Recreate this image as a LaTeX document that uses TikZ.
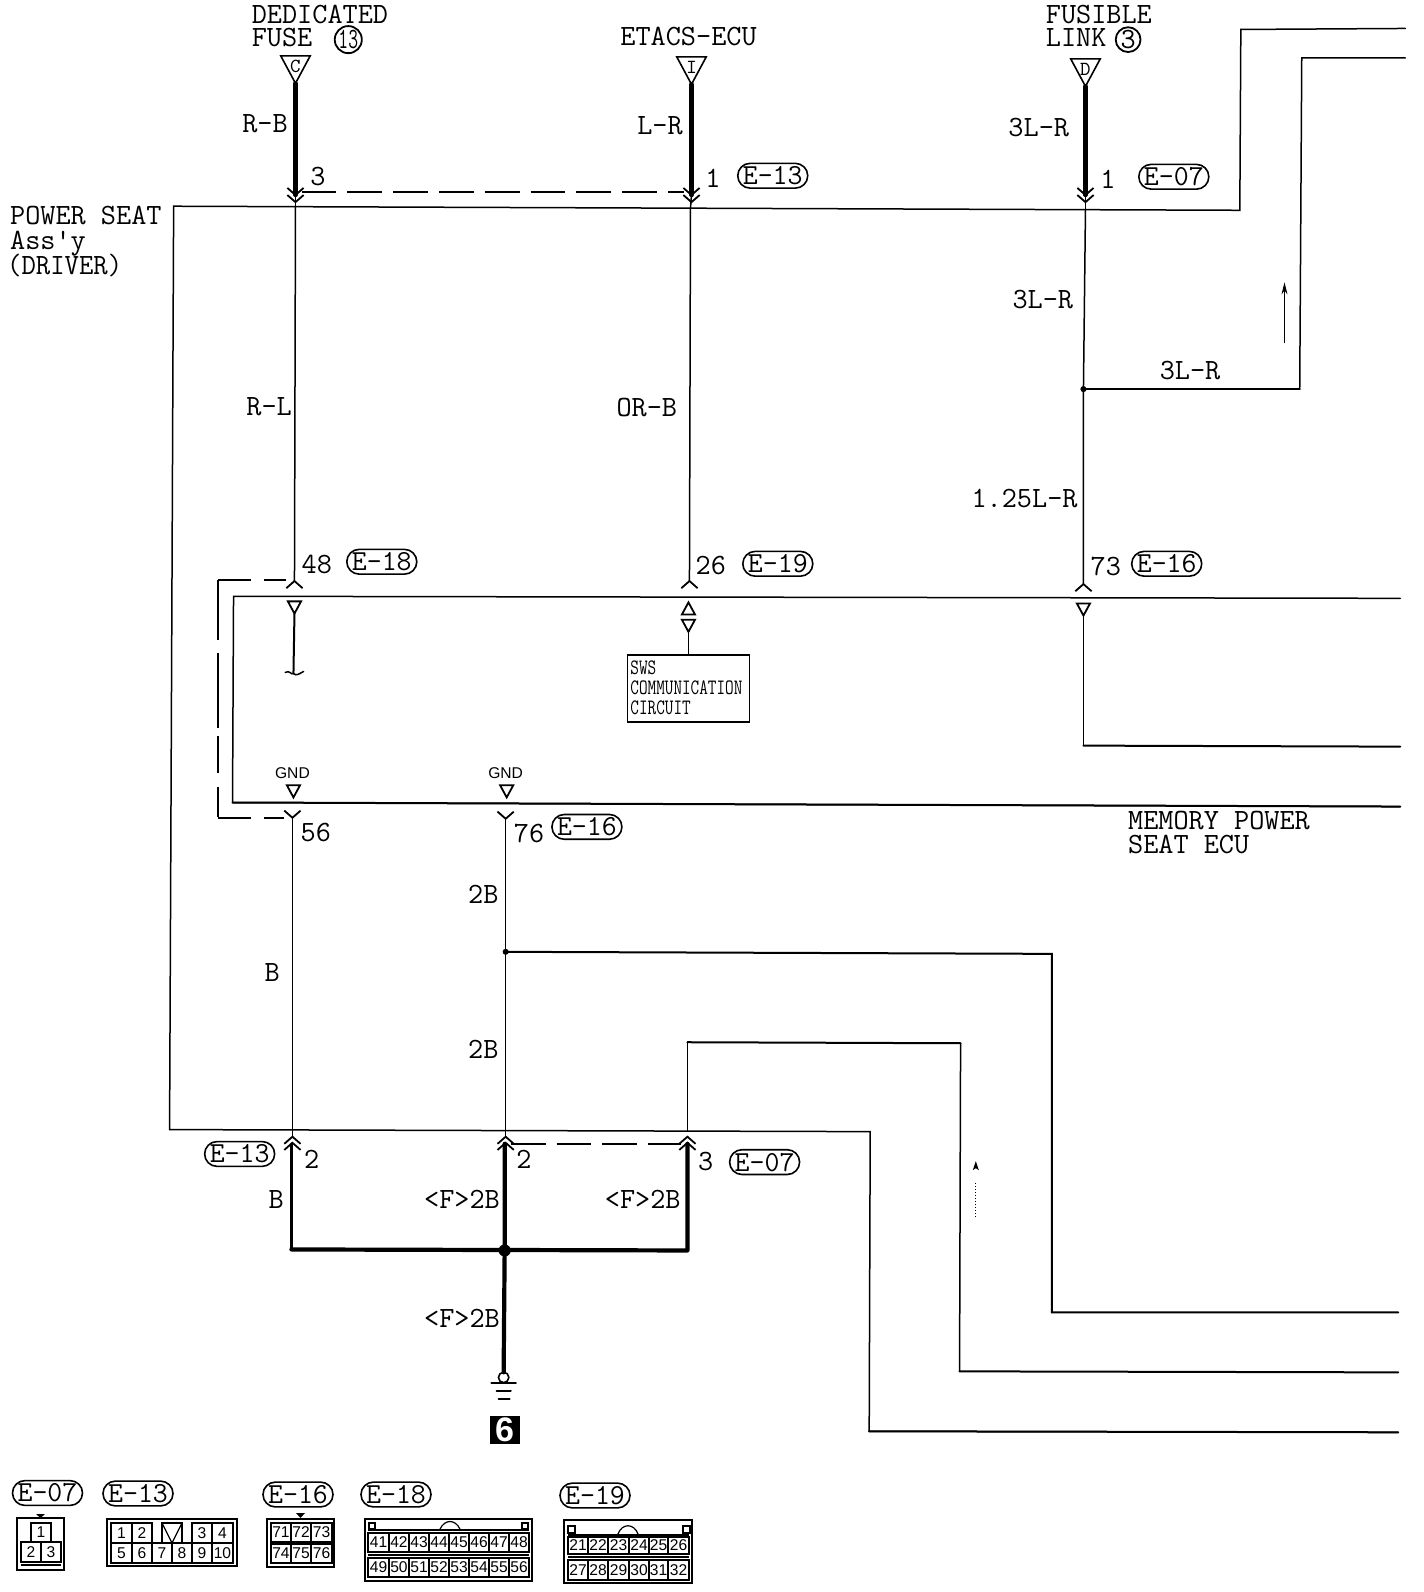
\documentclass[tikz,border=0pt]{standalone}
\usepackage{fontspec}
\newfontfamily\arialish{Liberation Sans}
\usetikzlibrary{arrows.meta,shapes.misc,calc}
\lineskiplimit=-20pt
\newcommand{\stackfont}[1]{\ttfamily\fontsize{14.7}{#1}\selectfont}
\tikzset{
  wire/.style={line width=0.75pt,line cap=round,line join=miter},
  medwire/.style={line width=1pt,line cap=round},
  heavy/.style={line width=2.1pt,line cap=round,line join=round},
  dashshort/.style={line width=0.9pt,dash pattern=on 17.4pt off 5.5pt},
  dashhoriz/.style={line width=0.9pt,dash pattern=on 16.5pt off 6.2pt},
  dashvert/.style={line width=0.9pt,dash pattern=on 30pt off 6.6pt on 37.6pt off 4pt on 18.3pt off 7.1pt on 14.7pt off 2pt},
  lab/.style={font=\ttfamily\fontsize{14.7}{16}\selectfont,inner sep=0pt,outer sep=0pt},
  stackA/.style={font=\stackfont{11.7},inner sep=0pt,outer sep=0pt,align=left,anchor=west},
  stackB/.style={font=\stackfont{12.45},inner sep=0pt,outer sep=0pt,align=left,anchor=west},
  pill/.style={lab,font=\ttfamily\fontsize{14.5}{16}\selectfont,draw,line width=0.8pt,rounded rectangle,minimum width=35pt,minimum height=12.4pt},
  circnum/.style={lab,draw,line width=0.9pt,circle,minimum size=12.4pt},
  tinylet/.style={font=\ttfamily\fontsize{10}{10}\selectfont,inner sep=0pt},
  gnd/.style={font=\arialish\fontsize{7.8}{8}\selectfont,inner sep=0pt},
  pinnum/.style={font=\arialish\fontsize{7.8}{8}\selectfont,inner sep=0pt},
  cellline/.style={line width=0.6pt},
  cellthick/.style={line width=1pt},
  termdown/.pic={\draw[line width=0.8pt] (-14.5,-27) -- (14.5,-27) -- (0,0) -- cycle;},
  smalldown/.pic={\draw[line width=0.9pt] (-6.5,-12) -- (6.5,-12) -- (0,0) -- cycle;},
  smallup/.pic={\draw[line width=0.9pt] (-6.5,12) -- (6.5,12) -- (0,0) -- cycle;},
  chevdown/.pic={\draw[line width=0.9pt] (-8,-7) -- (0,0) -- (8,-7);},
  chevup/.pic={\draw[line width=0.9pt] (-8,7) -- (0,0) -- (8,7);}
}
\begin{document}
\begin{tikzpicture}[x=0.5077pt,y=-0.5079pt]
\useasboundingbox (0pt,0pt) rectangle (712pt,-796pt);
\fill[white] (0pt,0pt) rectangle (712pt,-796pt);

% ---- named points
\coordinate (aTop) at (291,82);  \coordinate (aEnd) at (291,192); \coordinate (aHit) at (291,204); \coordinate (aLow) at (290,572);
\coordinate (bTop) at (681,83);  \coordinate (bEnd) at (681,192); \coordinate (bHit) at (680,205); \coordinate (bLow) at (679,572);
\coordinate (cTop) at (1069,85); \coordinate (cEnd) at (1069,192); \coordinate (cHit) at (1069,206); \coordinate (cJoin) at (1067,383); \coordinate (cLow) at (1067,575);
\coordinate (mainL) at (171,203); \coordinate (mainR) at (1221,207); \coordinate (mainUp) at (1222,29); \coordinate (mainOut) at (1384,28);
\coordinate (br1) at (1280,383); \coordinate (br2) at (1282,57); \coordinate (br3) at (1384,57);
\coordinate (ecuTL) at (230,587); \coordinate (ecuTR) at (1379,589); \coordinate (ecuBL) at (229,790); \coordinate (ecuBR) at (1379,794);
\coordinate (inA) at (290,604); \coordinate (inAend) at (289,663);
\coordinate (inB) at (678,622);
\coordinate (inC) at (1067,606); \coordinate (inCc) at (1067,734); \coordinate (inCr) at (1379,735);
\coordinate (dTL) at (215,571); \coordinate (dBL) at (215,805); \coordinate (dT) at (282,571); \coordinate (dB) at (280,805);
\coordinate (gA) at (288,805); \coordinate (gB) at (498,806);
\coordinate (gJoin) at (498,937); \coordinate (j1) at (1036,939); \coordinate (j2) at (1036,1292); \coordinate (j3) at (1377,1292);
\coordinate (botL) at (167,1112); \coordinate (botR) at (857,1114); \coordinate (botD) at (856,1409); \coordinate (botOut) at (1377,1410);
\coordinate (hitA) at (288,1119); \coordinate (hitB) at (498,1119); \coordinate (hitC) at (677,1119);
\coordinate (k0) at (677,1113); \coordinate (k1) at (677,1026); \coordinate (k2) at (946,1027); \coordinate (k3) at (945,1350); \coordinate (k4) at (1377,1351);
\coordinate (hA) at (287,1126); \coordinate (hAb) at (287,1230); \coordinate (hB) at (497,1126); \coordinate (hJ) at (497,1231); \coordinate (hC) at (677,1126); \coordinate (hCb) at (677,1231); \coordinate (hG) at (496,1351);

% ---- box outlines and long wires
\draw[wire] (botOut) -- (botD) -- (botR) -- (botL) -- (mainL) -- (mainR) -- (mainUp) -- (mainOut);
\draw[wire] (cJoin) -- (br1) -- (br2) -- (br3);
\draw[medwire] (cJoin) -- (br1);
\draw[wire] (ecuTR) -- (ecuTL) -- (ecuBL) -- (ecuBR);
\draw[medwire] (ecuBL) -- (ecuBR);

% ---- upper wires
\draw[heavy] (aTop) -- (aEnd);
\draw[heavy] (bTop) -- (bEnd);
\draw[heavy] (cTop) -- (cEnd);
\draw[wire] (aHit) -- (aLow);
\draw[wire] (bHit) -- (bLow);
\draw[wire] (cHit) -- (cJoin) -- (cLow);
\draw[wire] (aEnd) -- (aHit);
\draw[wire] (bEnd) -- (bHit);
\draw[wire] (cEnd) -- (cHit);
\fill (cJoin) circle (3);
\pic at (aEnd) {chevdown}; \pic at ($(aEnd)+(0,7)$) {chevdown};
\pic at (bEnd) {chevdown}; \pic at ($(bEnd)+(0,7)$) {chevdown};
\pic at (cEnd) {chevdown}; \pic at ($(cEnd)+(0,7)$) {chevdown};
\pic at (aTop) {termdown}; \pic at (bTop) {termdown}; \pic at (cTop) {termdown};
\node[tinylet] (letC) at (291,65) {C};
\node[tinylet] (letI) at (681,66) {I};
\node[tinylet] (letD) at (1069,68) {D};
\coordinate (dashA) at (297,189); \coordinate (dashB) at (674,189);
\draw[dashshort] (dashA) -- (dashB);
\draw[line width=0.5pt,-{Stealth[length=6pt,width=3pt]}] (1265,338) -- (1265,278);

% ---- inside the ECU
\pic at (aLow) {chevup}; \pic at (bLow) {chevup}; \pic at (cLow) {chevup};
\pic at (inA) {smalldown};
\draw[medwire] (inA) -- (inAend);
\draw[wire] (281,662) .. controls (285,659) and (287,665) .. (inAend) .. controls (292,666) and (295,663) .. (299,661);
\pic at (678,593) {smallup};
\pic at (inB) {smalldown};
\node[draw,line width=0.9pt,inner sep=0pt,minimum width=61pt,minimum height=33.5pt] (sws) at (678,678) {};
\draw[wire] (inB) -- (sws.north);
\node[font=\ttfamily\fontsize{11}{10.2}\selectfont,inner sep=0pt,anchor=west,align=left] (swsT) at (620.5,677)
  {\scalebox{.76}[1]{SWS}\\ \scalebox{.76}[1]{COMMUNICATION}\\ \scalebox{.76}[1]{CIRCUIT}};
\pic at (inC) {smalldown};
\draw[wire] (inC) -- (inCc);
\draw[medwire] (inCc) -- (inCr);
\node[gnd] (gnd1) at (288,761) {GND};
\node[gnd] (gnd2) at (498,761) {GND};
\pic at (289,785) {smalldown};
\pic at (499,785) {smalldown};

% ---- dashed shield
\draw[dashhoriz] (dTL) -- (dT);
\draw[dashvert] (dTL) -- (dBL);
\draw[dashhoriz] (dBL) -- (dB);

% ---- lower wires
\pic at (gA) {chevdown}; \pic at (gB) {chevdown};
\draw[wire] (gA) -- (hitA);
\draw[wire] (gB) -- (gJoin) -- (hitB);
\fill (gJoin) circle (3);
\draw[medwire] (gJoin) -- (j1) -- (j2) -- (j3);
\draw[wire] (j1) -- (j2);
\draw[wire] (k0) -- (k1);
\draw[medwire] (k1) -- (k2);
\draw[wire] (k2) -- (k3);
\draw[medwire] (k3) -- (k4);
\draw[medwire] (botD) -- (botOut);
\draw[line width=0.5pt,densely dotted] (961,1165) -- (961,1200);
\fill (961,1143) -- (964,1152) -- (961,1150) -- (958,1152) -- cycle;

\pic at (hitA) {chevup}; \pic at ($(hitA)+(0,6)$) {chevup};
\pic at (hitB) {chevup}; \pic at ($(hitB)+(0,6)$) {chevup};
\pic at (hitC) {chevup}; \pic at ($(hitC)+(0,6)$) {chevup};
\draw[line width=1.5pt,line cap=round] (hA) -- (hAb);
\draw[heavy] (hAb) -- (hCb) -- (hC);
\draw[heavy] (hB) -- (hJ) -- (hG);
\fill (hJ) circle (6);
\coordinate (dashC) at (503,1126); \coordinate (dashD) at (671,1126);
\draw[dashshort] (dashC) -- (dashD);

% ---- ground
\node[draw,circle,line width=0.8pt,inner sep=0pt,minimum size=5.2pt] (gr) at (496,1356) {};
\draw[medwire] (484,1361) -- (508,1361);
\draw[medwire] (489,1369) -- (503,1369);
\draw[medwire] (491,1377) -- (502,1377);
\node[fill=black,text=white,font=\arialish\bfseries\fontsize{17}{17}\selectfont,inner sep=0pt,minimum width=15pt,minimum height=14pt] (six) at (497,1408) {6};

% ---- titles
\node[stackA] (t1) at (248,25.5) {DEDICATED\\FUSE};
\node[circnum] (c13) at (343,39) {\scalebox{.65}[1]{13}};
\node[lab,anchor=base west] (t3) at (611,45) {ETACS-ECU};
\node[stackA] (t4) at (1030,25.5) {FUSIBLE\\LINK};
\node[circnum] (c3) at (1111,39) {3};
\node[stackB] (t6) at (10,237.5) {POWER SEAT\\Ass'y\\\hspace*{-1.5pt}\scalebox{.95}[1]{(DRIVER)}};
\node[stackA] (t9) at (1111,819.5) {MEMORY POWER\\SEAT ECU};

% ---- wire labels
\node[lab] (w1) at (261,122) {R-B};
\node[lab] (w2) at (650,124) {L-R};
\node[lab] (w3) at (1023,126) {3L-R};
\node[lab] (w4) at (265,400) {R-L};
\node[lab] (w5) at (637,401) {OR-B};
\node[lab] (w6) at (1027,295) {3L-R};
\node[lab] (w7) at (1172,365) {3L-R};
\node[lab] (w8) at (1009,491) {1.25L-R};
\node[lab] (w9) at (476,880) {2B};
\node[lab] (w10) at (476,1033) {2B};
\node[lab] (w11) at (268,957) {B};
\node[lab] (w12) at (272,1181) {B};
\node[lab] (w13) at (455,1181) {<F>2B};
\node[lab] (w14) at (633,1181) {<F>2B};
\node[lab] (w15) at (455,1298) {<F>2B};

% ---- pin numbers and connector pills
\node[lab] (n1) at (313,174) {3};
\node[lab] (n2) at (702,176) {1};
\node[lab] (n3) at (1091,177) {1};
\node[lab] (n4) at (312,556) {48};
\node[lab] (n5) at (700,557) {26};
\node[lab] (n6) at (1089,558) {73};
\node[lab] (n7) at (311,820) {56};
\node[lab] (n8) at (521,820) {76};
\node[lab] (n9) at (307,1141) {2};
\node[lab] (n10) at (516,1141) {2};
\node[lab] (n11) at (695,1143) {3};
\node[pill] (p1) at (761,173) {E-13};
\node[pill] (p2) at (1156,174) {E-07};
\node[pill] (p3) at (376,553) {E-18};
\node[pill] (p4) at (766,555) {E-19};
\node[pill] (p5) at (1149,555) {E-16};
\node[pill] (p6) at (578,814) {E-16};
\node[pill] (p7) at (236,1136) {E-13};
\node[pill] (p8) at (753,1144) {E-07};

% ---- connector faces (reference pixels)
\begin{scope}[x=0.5pt,y=-0.5pt]
\node[pill] (lg1) at (47.5,1493) {E-07};
\node[pill] (lg2) at (138,1493.5) {E-13};
\node[pill] (lg3) at (298,1494.5) {E-16};
\node[pill] (lg4) at (396,1494.5) {E-18};
\node[pill] (lg5) at (595,1495.5) {E-19};
% E-07
\draw[cellline] (17,1518) rectangle (64,1570);
\fill (36,1514) -- (45,1514) -- (40.5,1518) -- cycle;
\draw[cellline] (31,1523) rectangle (51,1542) node[midway,pinnum] (a1) {1};
\draw[cellthick] (21,1542) rectangle (41,1562) node[midway,pinnum] (a2) {2};
\draw[cellthick] (41,1542) rectangle (61,1562) node[midway,pinnum] (a3) {3};
\draw[cellthick] (21,1565) -- (61,1565);
% E-13
\draw[cellthick] (107,1519) rectangle (237,1566);
\foreach \xa/\xb/\n in {111/132/1,132/152/2,192/212/3,212/233/4}
  {\draw[cellthick] (\xa,1523) rectangle (\xb,1543) node[midway,pinnum] (e\n) {\n};}
\foreach \xa/\xb/\n in {111/132/5,132/152/6,152/172/7,172/192/8,192/212/9,212/233/10}
  {\draw[cellline] (\xa,1543) rectangle (\xb,1563) node[midway,pinnum] (e\n) {\n};}
\draw[cellthick] (111,1563) -- (152,1563) (192,1563) -- (233,1563);
\draw[cellthick] (162,1543) -- (162,1523) -- (182,1523) -- (182,1543);
\draw[cellline] (162,1523) -- (172,1543) -- (182,1523);
% E-16
\draw[cellline] (267,1519) rectangle (334,1567);
\fill (296,1513) -- (305,1513) -- (300.5,1518) -- cycle;
\foreach \xa/\xb/\n in {271/291/71,291/311/72,311/332/73}
  {\draw[cellline] (\xa,1523) rectangle (\xb,1542) node[midway,pinnum] (f\n) {\n};}
\foreach \xa/\xb/\n in {271/291/74,291/311/75,311/332/76}
  {\draw[cellline] (\xa,1544) rectangle (\xb,1563) node[midway,pinnum] (f\n) {\n};}
\draw[cellthick] (271,1543) -- (332,1543) (271,1523) -- (332,1523);
% E-18
\draw[cellthick] (365,1519) rectangle (532,1581);
\draw[cellline] (369,1523) rectangle (375,1529) (522,1523) rectangle (528,1529);
\draw[cellline] (440,1529) .. controls (445,1519) and (455,1519) .. (460,1529);
\draw[line width=1.4pt] (368,1530) -- (529,1530) (368,1555) -- (529,1555);
\foreach \xa/\xb/\n in {368/389/41,389/409/42,409/429/43,429/449/44,449/469/45,469/489/46,489/509/47,509/529/48}
  {\draw[cellline] (\xa,1533) rectangle (\xb,1552) node[midway,pinnum] (g\n) {\n};}
\foreach \xa/\xb/\n in {368/389/49,389/409/50,409/429/51,429/449/52,449/469/53,469/489/54,489/509/55,509/529/56}
  {\draw[cellline] (\xa,1558) rectangle (\xb,1577) node[midway,pinnum] (g\n) {\n};}
% E-19
\draw[cellthick] (564,1520) rectangle (692,1583);
\draw[cellline] (568,1526) rectangle (575,1533) (683,1526) rectangle (690,1533);
\draw[cellline] (618,1534) .. controls (622,1523) and (634,1523) .. (638,1534);
\draw[line width=1.4pt] (568,1535) -- (689,1535) (568,1557) -- (689,1557);
\foreach \xa/\xb/\n in {568/588/21,588/608/22,608/629/23,629/649/24,649/668/25,668/689/26}
  {\draw[cellline] (\xa,1537) rectangle (\xb,1554) node[midway,pinnum] (h\n) {\n};}
\foreach \xa/\xb/\n in {568/588/27,588/608/28,608/629/29,629/649/30,649/668/31,668/689/32}
  {\draw[cellline] (\xa,1560) rectangle (\xb,1580) node[midway,pinnum] (h\n) {\n};}
\end{scope}
\end{tikzpicture}
\end{document}
